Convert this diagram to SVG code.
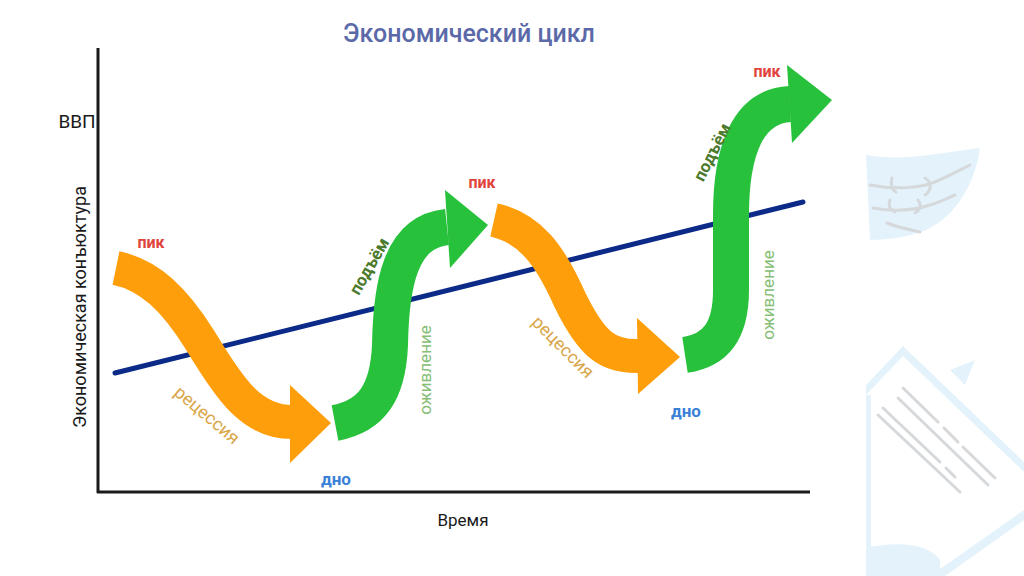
<svg xmlns="http://www.w3.org/2000/svg" width="1024" height="576" viewBox="0 0 1024 576">
<style>
.ax{stroke:#1a1a1a;stroke-width:3;fill:none}
.or{stroke:#FF9E0B;stroke-width:34;fill:none}
.orh{fill:#FF9E0B}
.gr{stroke:#27C13B;stroke-width:36;fill:none}
.grh{fill:#27C13B}
.t{font-family:Roboto,"Liberation Sans",sans-serif}
.pk{font-family:Roboto,"Liberation Sans",sans-serif;font-size:16px;font-weight:bold;fill:#E0443C;text-anchor:middle}
.dn{font-family:Roboto,"Liberation Sans",sans-serif;font-size:17px;font-weight:bold;fill:#3A7FD8;text-anchor:middle}
.rc{font-family:Roboto,"Liberation Sans",sans-serif;font-size:18px;fill:#D9A64A;text-anchor:middle}
.pd{font-family:Roboto,"Liberation Sans",sans-serif;font-size:17px;font-weight:bold;fill:#4C7A2C;text-anchor:middle}
.oz{font-family:Roboto,"Liberation Sans",sans-serif;font-size:17px;fill:#86BE74;text-anchor:middle}
.deco{fill:#E4F3FB}
.dl{stroke:#D6D9DC;stroke-width:3;fill:none;stroke-linecap:round}
</style>
<rect width="1024" height="576" fill="#ffffff"/>
<g id="decor">
<path class="deco" d="M866,155 C905,162 945,152 980,148 C975,185 955,215 930,228 C915,236 890,240 870,240 Z"/>
<path class="dl" d="M870,185 C895,190 920,188 935,182 C945,178 960,170 970,165"/>
<path class="dl" d="M892,178 C890,184 892,190 896,192"/>
<path class="dl" d="M925,178 C932,182 932,190 925,195"/>
<path class="dl" d="M873,208 C895,212 915,210 930,205 C940,202 950,197 955,195"/>
<path class="dl" d="M890,200 C888,206 890,210 895,212"/>
<path class="dl" d="M918,200 C922,205 920,210 915,213"/>
<path class="dl" d="M887,223 C900,228 912,230 920,232"/>
<path class="deco" d="M866,385 L903,346 L1024,462 L1024,472 L903,356 L866,395 Z"/>
<path class="deco" d="M950,370 L975,360 L965,385 Z"/>
<path class="deco" d="M866,395 L871,395 L871,576 L866,576 Z"/>
<path class="dl" d="M903,388 L938,422 M944,428 L958,442 M963,447 L995,478"/>
<path class="dl" d="M898,398 L988,485"/>
<path class="dl" d="M883,408 L940,462 M946,468 L955,477"/>
<path class="dl" d="M878,415 L960,492"/>
<path class="deco" d="M866,548 C900,540 930,545 940,560 L940,576 L866,576 Z"/>
<path class="deco" d="M930,576 L1024,510 L1024,520 L945,576 Z"/>
</g>
<g id="axes">
<line class="ax" x1="98" y1="48" x2="98" y2="493"/>
<line class="ax" x1="97" y1="492" x2="810" y2="492"/>
</g>
<g id="title"><text class="t" x="469" y="42" font-size="25" font-weight="500" fill="#5B69A8" text-anchor="middle">Экономический цикл</text></g>
<g id="labels">
<text class="t" x="77" y="128" font-size="19" fill="#1a1a1a" text-anchor="middle">ВВП</text>
<text class="t" x="0" y="0" font-size="18" fill="#1a1a1a" text-anchor="middle" transform="translate(86,307) rotate(-90)">Экономическая конъюктура</text>
<text class="t" x="463" y="526" font-size="17" fill="#1a1a1a" text-anchor="middle">Время</text>
</g>
<g id="trend"><line x1="115" y1="373" x2="803" y2="202" stroke="#0C2A88" stroke-width="5" stroke-linecap="round"/></g>
<g id="connectors">
<g id="recession1">
<path class="or" d="M116,268 C150,275 175,300 200,340 C230,390 252,422 292,422"/>
<polygon class="orh" points="290,385 331,423 290,463"/>
</g>
<g id="rise1">
<path class="gr" d="M335,423 C372,416 388,392 390,345 C391,285 400,232 447,227"/>
<polygon class="grh" points="445,190 488,225 450,268"/>
</g>
<g id="recession2">
<path class="or" d="M494,220 C530,228 550,255 570,300 C592,345 608,357 639,356"/>
<polygon class="orh" points="637,318 680,357 638,394"/>
</g>
<g id="rise2">
<path class="gr" d="M685,355 C718,350 731,328 731,290 L731,215 C731,150 748,106 790,104"/>
<polygon class="grh" points="787,65 832,100 792,143"/>
</g>
</g>
<g id="phase-labels">
<text class="pk" x="151" y="248">пик</text>
<text class="pk" x="482" y="188">пик</text>
<text class="pk" x="767" y="77">пик</text>
<text class="dn" x="336" y="485">дно</text>
<text class="dn" x="686" y="417">дно</text>
<text class="rc" transform="translate(207,415) rotate(40)" x="0" y="6">рецессия</text>
<text class="rc" transform="translate(563,347) rotate(45)" x="0" y="6">рецессия</text>
<text class="pd" transform="translate(369,266) rotate(-60)" x="0" y="6">подъём</text>
<text class="pd" transform="translate(712,152) rotate(-63)" x="0" y="6">подъём</text>
<text class="oz" transform="translate(425,370) rotate(-90)" x="0" y="6">оживление</text>
<text class="oz" transform="translate(768,295) rotate(-90)" x="0" y="6">оживление</text>
</g>
</svg>
